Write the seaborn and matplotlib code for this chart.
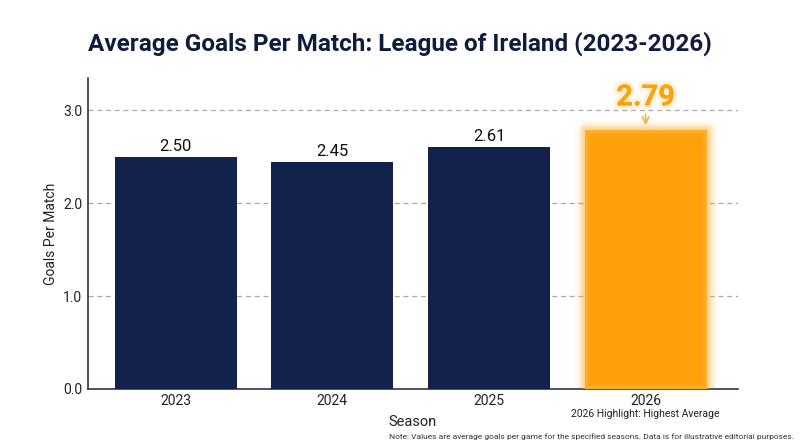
import numpy as np
import pandas as pd
import matplotlib
matplotlib.use('Agg')
import matplotlib.pyplot as plt
import matplotlib.patheffects as pe
from matplotlib.patches import Rectangle
import seaborn as sns

seasons = ['2023', '2024', '2025', '2026']
goals = [2.50, 2.45, 2.61, 2.79]
highlight = '2026'

navy = '#12224a'
orange = '#ffa10a'
text_dark = '#0f1d3d'

sns.set_theme(style='white')
plt.rcParams['font.family'] = ['Roboto', 'DejaVu Sans']

df = pd.DataFrame({'Season': seasons, 'Goals': goals})
palette = {s: (orange if s == highlight else navy) for s in seasons}

fig = plt.figure(figsize=(8, 4.47), dpi=100)
ax = fig.add_axes([0.11, 0.13, 0.8125, 0.6955])

sns.barplot(data=df, x='Season', y='Goals', hue='Season', palette=palette,
            width=0.78, saturation=1, legend=False, linewidth=0, ax=ax, zorder=3)

ax.set_ylim(0, 3.35)
ax.set_xlim(-0.56, 3.59)
ax.set_yticks([0, 1, 2, 3])
ax.set_yticklabels(['0.0', '1.0', '2.0', '3.0'])
ax.yaxis.grid(True, linestyle=(0, (4, 3)), color='#aaaaaa', linewidth=0.9, zorder=0)
ax.set_axisbelow(True)
ax.tick_params(axis='both', length=0, labelsize=10, colors='#222222', pad=4)

for side in ['top', 'right']:
    ax.spines[side].set_visible(False)
for side in ['left', 'bottom']:
    ax.spines[side].set_color('#2b3550')
    ax.spines[side].set_linewidth(1.2)

ax.set_xlabel('Season', fontsize=10.5, color='#222222', labelpad=5)
ax.set_ylabel('Goals Per Match', fontsize=10, color='#222222', labelpad=4)

# labels and glow
for i, (s, v) in enumerate(zip(seasons, goals)):
    patch = ax.patches[i]
    if s == highlight:
        x0, w = patch.get_x(), patch.get_width()
        for k, a in zip([16, 12, 9, 6, 3], [0.04, 0.05, 0.07, 0.09, 0.12]):
            ax.add_patch(Rectangle((x0, 0), w, v, facecolor='none', edgecolor=orange,
                                   linewidth=k, alpha=a, zorder=2, joinstyle='round'))
        for k, a in zip([8, 4], [0.15, 0.2]):
            ax.add_patch(Rectangle((x0, 0), w, v, facecolor='none', edgecolor='#ffc76a',
                                   linewidth=k, alpha=a, zorder=4, joinstyle='round'))
        ax.annotate('', xy=(i, v + 0.02), xytext=(i, v + 0.2),
                    arrowprops=dict(arrowstyle='->', color='#f2b24a', lw=1.2), zorder=5)
        ax.text(i, v + 0.2, f'{v:.2f}', ha='center', va='bottom', fontsize=21,
                fontweight='bold', color=orange, zorder=5,
                path_effects=[pe.withStroke(linewidth=5, foreground='#ffeccc', alpha=0.7),
                              pe.Normal()])
    else:
        ax.text(i, v + 0.03, f'{v:.2f}', ha='center', va='bottom', fontsize=12,
                color='#111111', zorder=5)

hi = seasons.index(highlight)
ax.text(hi, -0.22, f'{highlight} Highlight: Highest Average', ha='center', va='top',
        fontsize=7.5, color='#222222', transform=ax.transData)

fig.suptitle('Average Goals Per Match: League of Ireland (2023-2026)', x=0.5, y=0.93,
             fontsize=17.5, fontweight='bold', color=text_dark)

fig.text(0.993, 0.015, 'Note: Values are average goals per game for the specified seasons. '
         'Data is for illustrative editorial purposes.', ha='right', va='bottom',
         fontsize=6, color='#333333')

fig.savefig('out.png', dpi=100, facecolor='white')
